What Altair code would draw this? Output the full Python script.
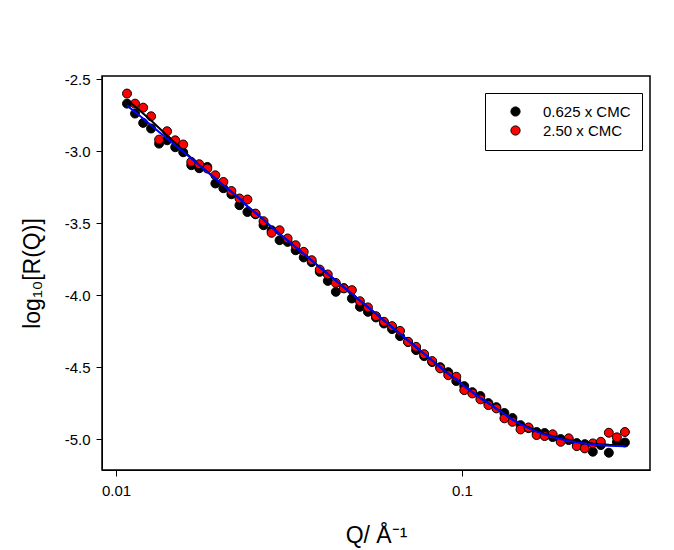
import altair as alt
import pandas as pd

# Q values (Å^-1)
q = [0.01076, 0.01135, 0.01198, 0.01263, 0.01332, 0.01405, 0.01483, 0.01564, 0.01650, 0.01740,
     0.01836, 0.01937, 0.02043, 0.02155, 0.02274, 0.02398, 0.02530, 0.02669, 0.02816, 0.02970,
     0.03133, 0.03305, 0.03487, 0.03678, 0.03880, 0.04093, 0.04318, 0.04555, 0.04805, 0.05069,
     0.05347, 0.05640, 0.05950, 0.06277, 0.06621, 0.06985, 0.07368, 0.07773, 0.08200, 0.08650,
     0.09125, 0.09626, 0.1015, 0.1071, 0.1130, 0.1192, 0.1257, 0.1326, 0.1399, 0.1476,
     0.1557, 0.1643, 0.1733, 0.1828, 0.1928, 0.2034, 0.2146, 0.2264, 0.2388, 0.2519,
     0.2657, 0.2803, 0.2957]

# log10 R(Q), 0.625 x CMC (black)
r_black = [-2.669, -2.738, -2.803, -2.842, -2.947, -2.924, -2.972, -3.007, -3.097, -3.118,
           -3.109, -3.224, -3.257, -3.299, -3.375, -3.422, -3.438, -3.514, -3.549, -3.618,
           -3.630, -3.688, -3.738, -3.771, -3.838, -3.901, -3.977, -3.951, -4.023, -4.081,
           -4.116, -4.155, -4.197, -4.236, -4.285, -4.326, -4.382, -4.424, -4.465, -4.500,
           -4.535, -4.597, -4.632, -4.674, -4.701, -4.750, -4.778, -4.819, -4.854, -4.903,
           -4.924, -4.951, -4.958, -4.986, -5.000, -5.007, -5.028, -5.035, -5.088, -5.042,
           -5.095, -5.021, -5.024]

# log10 R(Q), 2.50 x CMC (red)
r_red = [-2.599, -2.669, -2.697, -2.757, -2.919, -2.861, -2.924, -2.953, -3.074, -3.090,
         -3.120, -3.167, -3.213, -3.276, -3.328, -3.335, -3.433, -3.486, -3.567, -3.549,
         -3.606, -3.653, -3.699, -3.757, -3.822, -3.856, -3.915, -3.953, -3.965, -4.042,
         -4.085, -4.146, -4.185, -4.215, -4.248, -4.324, -4.359, -4.410, -4.458, -4.509,
         -4.556, -4.567, -4.660, -4.683, -4.724, -4.764, -4.787, -4.856, -4.880, -4.933,
         -4.919, -4.972, -4.979, -4.967, -5.019, -4.995, -5.049, -5.065, -5.030, -5.019,
         -4.956, -4.988, -4.951]

# fitted curves
fit_blue = [-2.681, -2.727, -2.773, -2.819, -2.866, -2.912, -2.958, -3.004, -3.051, -3.097,
            -3.143, -3.190, -3.236, -3.282, -3.328, -3.382, -3.428, -3.474, -3.528, -3.574,
            -3.620, -3.667, -3.713, -3.759, -3.806, -3.852, -3.898, -3.945, -3.990, -4.037,
            -4.083, -4.129, -4.176, -4.222, -4.268, -4.315, -4.361, -4.407, -4.454, -4.500,
            -4.546, -4.585, -4.632, -4.674, -4.715, -4.750, -4.788, -4.826, -4.865, -4.896,
            -4.924, -4.948, -4.969, -4.986, -5.000, -5.014, -5.024, -5.031, -5.038, -5.043,
            -5.047, -5.049, -5.050]

fit_black = [-2.641, -2.689, -2.738, -2.787, -2.839, -2.890, -2.942, -2.994, -3.046, -3.095,
             -3.143, -3.190, -3.236, -3.282, -3.328, -3.382, -3.428, -3.474, -3.528, -3.574,
             -3.620, -3.667, -3.713, -3.759, -3.806, -3.852, -3.898, -3.945, -3.990, -4.037,
             -4.083, -4.129, -4.176, -4.222, -4.268, -4.315, -4.361, -4.407, -4.454, -4.500,
             -4.546, -4.585, -4.632, -4.674, -4.715, -4.750, -4.788, -4.826, -4.865, -4.896,
             -4.918, -4.942, -4.963, -4.980, -4.994, -5.007, -5.017, -5.024, -5.031, -5.036,
             -5.040, -5.042, -5.043]

series_names = ["0.625 x CMC", "2.50 x CMC"]
series_colors = ["#000000", "#ff0000"]
y_ticks = [-5.0, -4.5, -4.0, -3.5, -3.0, -2.5]
x_ticks = [0.01, 0.1]

FONT = "Liberation Sans, Arial, sans-serif"

n = len(q)
pts = pd.DataFrame({
    "Q": q + q,
    "R": r_black + r_red,
    "series": [series_names[0]] * n + [series_names[1]] * n,
})
fits = pd.DataFrame({"Q": q, "fit_black": fit_black, "fit_blue": fit_blue})

xscale = alt.Scale(type="log", domain=[0.00911, 0.3494], nice=False)
yscale = alt.Scale(domain=[-5.215, -2.477], nice=False, zero=False)

xaxis = alt.Axis(
    title="Q/ Å⁻¹", values=x_ticks, format="~g", grid=False,
    tickSize=6, tickColor="black", domainColor="black", labelColor="black",
    labelFont=FONT, labelFontSize=15, labelPadding=7,
    titleFont=FONT, titleFontSize=23, titleFontWeight="normal", titleColor="black",
    titlePadding=26,
)
yaxis = alt.Axis(
    title="log₁₀[R(Q)]", values=y_ticks, grid=False,
    labelExpr="datum.value % 1 == 0 ? datum.value + '.0' : datum.value + ''",
    tickSize=6, tickColor="black", domainColor="black", labelColor="black",
    labelFont=FONT, labelFontSize=15, labelPadding=6,
    titleFont=FONT, titleFontSize=23, titleFontWeight="normal", titleColor="black",
    titlePadding=20,
)

points = alt.Chart(pts).mark_point(
    filled=True, shape="circle", size=80, stroke="black", strokeWidth=1, opacity=1
).encode(
    x=alt.X("Q:Q", scale=xscale, axis=xaxis),
    y=alt.Y("R:Q", scale=yscale, axis=yaxis),
    color=alt.Color(
        "series:N",
        scale=alt.Scale(domain=series_names, range=series_colors),
        legend=alt.Legend(
            title=None, orient="none", legendX=383, legendY=17, direction="vertical",
            strokeColor="black", fillColor="white", padding=11, symbolOffset=12,
            labelOffset=20, rowPadding=3, symbolSize=85, symbolType="circle",
            symbolStrokeColor="black", symbolStrokeWidth=1,
            labelFont=FONT, labelFontSize=15, labelColor="black",
        ),
    ),
    order=alt.Order("series:N"),
)

line_black = alt.Chart(fits).mark_line(color="black", strokeWidth=2).encode(
    x=alt.X("Q:Q", scale=xscale), y=alt.Y("fit_black:Q", scale=yscale)
)
line_blue = alt.Chart(fits).mark_line(color="#0000ff", strokeWidth=2).encode(
    x=alt.X("Q:Q", scale=xscale), y=alt.Y("fit_blue:Q", scale=yscale)
)

chart = alt.layer(points, line_black, line_blue).properties(
    width=548, height=394,
    autosize=alt.AutoSizeParams(type="none"),
    padding={"left": 94, "top": 68, "right": 14, "bottom": 80},
    background="white",
).configure_view(stroke="black", strokeWidth=1.5, strokeOpacity=1)

chart.save("out.html", embed_options={"renderer": "svg", "actions": False})
